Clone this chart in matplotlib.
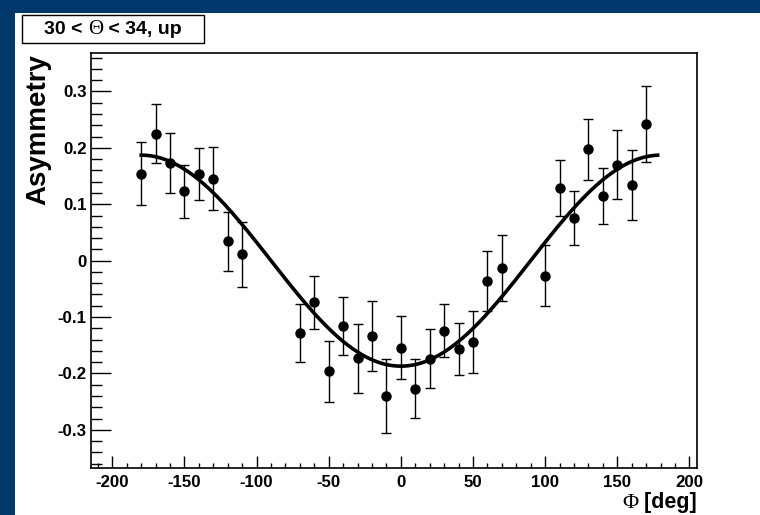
import numpy as np
import matplotlib
matplotlib.use("Agg")
import matplotlib.pyplot as plt
from matplotlib.ticker import MultipleLocator, FuncFormatter
from matplotlib.patches import Rectangle

plt.rcParams['font.family'] = ['Liberation Sans', 'DejaVu Sans']
plt.rcParams['axes.unicode_minus'] = False

# ---- data ----
phi = [-180, -170, -160, -150, -140, -130, -120, -110,
       -70, -60, -50, -40, -30, -20, -10, 0, 10, 20, 30, 40, 50, 60, 70,
       100, 110, 120, 130, 140, 150, 160, 170]
asym = [0.154, 0.225, 0.173, 0.123, 0.154, 0.145, 0.034, 0.011,
        -0.128, -0.074, -0.196, -0.116, -0.173, -0.133, -0.240, -0.154, -0.227,
        -0.174, -0.124, -0.157, -0.144, -0.036, -0.013,
        -0.027, 0.129, 0.075, 0.197, 0.115, 0.170, 0.134, 0.242]
err = [0.056, 0.052, 0.053, 0.047, 0.046, 0.056, 0.052, 0.057,
       0.051, 0.047, 0.054, 0.051, 0.061, 0.062, 0.066, 0.056, 0.052,
       0.052, 0.047, 0.046, 0.055, 0.053, 0.059,
       0.054, 0.050, 0.048, 0.054, 0.050, 0.061, 0.062, 0.067]
fit_amp = -0.187           # fit: A * cos(phi)
fit_range = (-180, 178)

title_parts = ["30 < ", "\u0398", " < 34, up"]
xlabel_parts = ["\u03a6", " [deg]"]
ylabel = "Asymmetry"

# ---- figure ----
W, H = 760, 515
fig = plt.figure(figsize=(W / 100, H / 100), dpi=100)
fig.patch.set_facecolor('#02386c')
fig.patches.append(Rectangle((15 / W, 0), 1 - 15 / W, 1 - 13 / H,
                             transform=fig.transFigure, facecolor='white',
                             edgecolor='none', zorder=-5))

ax = fig.add_axes([91 / W, 1 - 468 / H, (697 - 91) / W, (468 - 53) / H])
ax.set_zorder(2)
ax.set_xlim(-214.8, 205.3)
ax.set_ylim(-0.3675, 0.368)

ax.errorbar(phi, asym, yerr=err, fmt='o', color='black', markersize=6.5,
            elinewidth=1.0, capsize=3.5, capthick=1.0, zorder=3)
xf = np.linspace(fit_range[0], fit_range[1], 400)
ax.plot(xf, fit_amp * np.cos(np.radians(xf)), color='black', lw=2.6, zorder=4)

for s in ax.spines.values():
    s.set_linewidth(1.2)
    s.set_color('black')

ax.xaxis.set_major_locator(MultipleLocator(50))
ax.xaxis.set_minor_locator(MultipleLocator(10))
ax.yaxis.set_major_locator(MultipleLocator(0.1))
ax.yaxis.set_minor_locator(MultipleLocator(0.02))

def yfmt(v, pos):
    if abs(v) < 1e-9:
        return "0"
    return f"{v:.1f}"
ax.yaxis.set_major_formatter(FuncFormatter(yfmt))
ax.xaxis.set_major_formatter(FuncFormatter(lambda v, p: f"{v:.0f}"))

ax.tick_params(axis='both', which='both', direction='in', top=False, right=False,
               color='black', width=1.0)
ax.tick_params(axis='y', which='major', length=14.5, pad=3, labelsize=12.2)
ax.tick_params(axis='y', which='minor', length=7.7)
ax.tick_params(axis='x', which='major', length=8.6, pad=5, labelsize=12.2)
ax.tick_params(axis='x', which='minor', length=3.8)
for lab in ax.get_xticklabels() + ax.get_yticklabels():
    lab.set_fontweight('bold')

fig.text(38 / W, 1 - 54 / H, ylabel, rotation=90, ha='center', va='top',
         fontsize=20, fontweight='bold')

renderer = fig.canvas.get_renderer()
serif = ['Liberation Serif', 'DejaVu Serif']

# x label: serif Phi + bold sans " [deg]", right aligned at axis end
xl_y = 1 - 508 / H
t2 = fig.text(697 / W, xl_y, xlabel_parts[1], ha='right', va='baseline',
              fontsize=15.5, fontweight='bold')
bb2 = t2.get_window_extent(renderer)
fig.text(bb2.x0 / W, xl_y, xlabel_parts[0], ha='right', va='baseline',
         fontsize=16, family=serif)

# title box text: pieces centered in box
tsize = 14
styles = [dict(fontweight='bold'), dict(family=serif, fontsize=15),
          dict(fontweight='bold')]
widths = []
tmp = []
for p, st in zip(title_parts, styles):
    kw = dict(fontsize=tsize)
    kw.update(st)
    t = fig.text(0, 0, p, **kw)
    widths.append(t.get_window_extent(renderer).width)
    tmp.append((t, kw))
total = sum(widths)
xstart = 113 - total / 2
ty = 1 - 34 / H
for (t, kw), w in zip(tmp, widths):
    t.set_position((xstart / W, ty))
    t.set_va('baseline')
    xstart += w

fig.patches.append(Rectangle((22 / W, 1 - 43 / H), (204 - 22) / W, (43 - 14.7) / H,
                             transform=fig.transFigure, facecolor='none',
                             edgecolor='black', lw=1.0, zorder=5))

fig.savefig('out.png', dpi=100, facecolor=fig.get_facecolor())
